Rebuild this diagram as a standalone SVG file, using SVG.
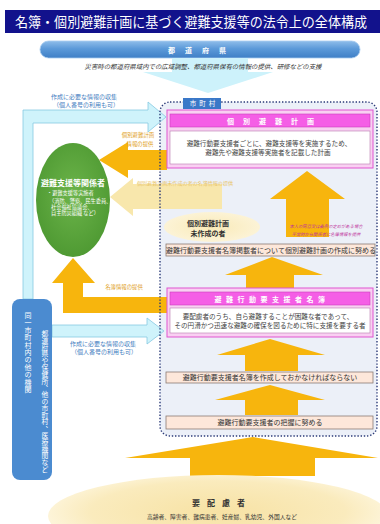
<svg xmlns="http://www.w3.org/2000/svg" width="380" height="524" viewBox="0 0 380 524">
<defs>
<linearGradient id="gPref" x1="0" y1="0" x2="0" y2="1">
<stop offset="0" stop-color="#8fbdea"/><stop offset="0.45" stop-color="#5c9ad9"/><stop offset="1" stop-color="#3f7fc6"/>
</linearGradient>
<radialGradient id="gCare" cx="0.5" cy="0.45" r="0.5">
<stop offset="0" stop-color="#f7e2a4"/><stop offset="0.75" stop-color="#faebbd"/><stop offset="1" stop-color="#fdf4d8"/>
</radialGradient>
<radialGradient id="gGreen" cx="0.5" cy="0.45" r="0.55">
<stop offset="0" stop-color="#6cb44a"/><stop offset="1" stop-color="#4f9a33"/>
</radialGradient>
<radialGradient id="gPale" cx="0.5" cy="0.5" r="0.5">
<stop offset="0" stop-color="#f9eab8"/><stop offset="1" stop-color="#fcf3d6"/>
</radialGradient>
</defs>
<style>
text{font-family:"Noto Sans CJK JP","Noto Sans",sans-serif;}
.wt{fill:#fff}
.bar{fill:#fde7da;stroke:#8a7c74;stroke-width:0.8}
.bt{font-size:7px;fill:#333;text-anchor:middle}
.pOuter{fill:#f9d0f2;stroke:#e055d0;stroke-width:1}
.pHead{fill:#f55ee6;stroke:#c93dbc;stroke-width:0.6}
.pBody{fill:#fff;stroke:#b77ab0;stroke-width:0.6}
.pht{font-size:7px;fill:#fff;text-anchor:middle;font-weight:bold}
.pt{font-size:6.6px;fill:#444;text-anchor:middle}
.orange{fill:#f7b50d}
.cyan{fill:#cff3fb;stroke:#86c9e2;stroke-width:0.8}
.pale{fill:#f8e7ac}
.ct{font-size:6px;fill:#3f7cc0;text-anchor:middle}
.ot{font-size:5.4px;fill:#e0a01c;text-anchor:middle}
.nt{font-size:4.3px;font-style:italic;fill:#c0349c;text-anchor:middle}
</style>
<rect x="0" y="0" width="380" height="524" fill="#fff"/>

<g id="title">
<rect x="5" y="10" width="375" height="23" fill="#12128c"/>
<text x="15" y="27" font-size="13.4" class="wt" textLength="352" lengthAdjust="spacingAndGlyphs">名簿・個別避難計画に基づく避難支援等の法令上の全体構成</text>
</g>

<g id="prefecture">
<rect x="40" y="41" width="320" height="17" rx="8.5" fill="url(#gPref)" stroke="#a8cdf0" stroke-width="0.8"/>
<polygon points="172,58 248,58 248,72 273,72 208,93 143,72 172,72" fill="#cdf2fb"/>
<text x="202" y="52.5" font-size="7" font-weight="bold" class="wt" text-anchor="middle" letter-spacing="10">都道府県</text>
<text x="203" y="69" font-size="6.4" font-style="italic" fill="#333" text-anchor="middle" textLength="237" lengthAdjust="spacingAndGlyphs">災害時の都道府県域内での広域調整、都道府県保有の情報の提供、研修などの支援</text>
</g>

<rect id="municipality-area" x="160" y="102" width="217" height="334" rx="10" fill="#ecf0f8"/>

<g id="connectors">
<polygon class="cyan" points="23,299 23,110 148,110 148,102 166,117 148,132 148,123 33,123 33,299"/>
<text class="ct" x="84" y="99">作成に必要な情報の収集</text>
<text class="ct" x="86" y="107">（個人番号の利用も可）</text>
<polygon class="cyan" points="52,325 147,325 147,318 164,331 147,344 147,337 52,337"/>
<text class="ct" x="103" y="346">作成に必要な情報の収集</text>
<text class="ct" x="104" y="354">（個人番号の利用も可）</text>
<polygon class="orange" points="167,150 128,150 128,142 99,160 128,178 128,170 167,170"/>
<text class="ot" x="138" y="137">個別避難計画</text>
<text class="ot" x="140" y="146">情報の提供</text>
<polygon class="pale" points="222,184 133,184 133,178 110,197 133,216 133,209 222,209"/>
<text x="185" y="185" font-size="5" fill="#e8c468" text-anchor="middle" textLength="96" lengthAdjust="spacingAndGlyphs">個別避難計画未作成の者の名簿情報の提供</text>
<polygon class="orange" points="167,297 83,297 83,283 95,283 73,258 52,283 63,283 63,313 167,313"/>
<text class="ot" x="124" y="289">名簿情報の提供</text>
<polygon class="orange" points="286,237 286,199 270,199 307,171 345,199 329,199 329,237"/>
<polygon class="orange" points="246,288 246,275 225,275 272,257 323,275 294,275 294,288"/>
<polygon class="orange" points="245,371 245,355 217,355 270,339 325,355 298,355 298,371"/>
<polygon class="orange" points="245,415 245,400 215,400 270,385 325,400 298,400 298,415"/>
<polygon class="orange" points="190,476 190,458 125,458 253,437 378,458 315,458 315,476"/>
</g>

<rect x="160" y="102" width="217" height="334" rx="10" fill="none" stroke="#2b3a78" stroke-width="1.4" stroke-dasharray="1.4 1.8"/>

<g id="municipality-label">
<rect x="183" y="98" width="38" height="11" fill="#3a78c8"/>
<text x="204" y="106" font-size="6.5" class="wt" text-anchor="middle" letter-spacing="3">市町村</text>
</g>

<g id="other-bodies">
<rect x="12" y="299" width="40" height="181" rx="8" fill="#4b8bd0"/>
<text font-size="7" class="wt" text-anchor="middle" x="28 28 28 28 28 28 28 28 28 28 28" y="318 325.4 332.8 340.2 347.6 355 362.4 369.8 377.2 384.6 392">同一市町村内の他の機関</text>
<text font-size="6.8" class="wt" text-anchor="middle" x="45 45 45 45 45 45 45 45 49 45 45 45 45 45 49 45 45 45 45 45 45" y="336 342.8 349.6 356.4 363.2 370 376.8 383.6 385.9 397.2 404 410.8 417.6 424.4 426.7 438 444.8 451.6 458.4 465.2 472">都道府県や保健所、他の市町村、医療機関など</text>
</g>

<g id="supporters">
<ellipse cx="73" cy="200" rx="37" ry="57" fill="url(#gGreen)"/>
<text x="73" y="186" font-size="8" font-weight="bold" class="wt" text-anchor="middle">避難支援等関係者</text>
<text x="47" y="195" font-size="5.2" class="wt">・避難支援等実施者</text>
<text x="49" y="203" font-size="5.2" class="wt">（消防、警察、民生委員、</text>
<text x="51" y="209" font-size="5.2" class="wt">社会福祉協議会、</text>
<text x="51" y="215" font-size="5.2" class="wt">自主防災組織 など）</text>
</g>

<g id="individual-plan">
<rect class="pOuter" x="167" y="110" width="206" height="58"/>
<rect class="pHead" x="170" y="114" width="200" height="13"/>
<text class="pht" x="275" y="123.5" letter-spacing="9">個別避難計画</text>
<rect class="pBody" x="170" y="131" width="200" height="33"/>
<text class="pt" x="269" y="145.5">避難行動要支援者ごとに、避難支援等を実施するため、</text>
<text class="pt" x="268" y="154.5">避難先や避難支援等実施者を記載した計画</text>
</g>

<g id="not-yet-planned">
<ellipse cx="212" cy="227" rx="48" ry="15" fill="url(#gPale)"/>
<text x="208" y="225.5" font-size="7" font-weight="bold" fill="#333" text-anchor="middle">個別避難計画</text>
<text x="208" y="235.5" font-size="7" font-weight="bold" fill="#333" text-anchor="middle">未作成の者</text>
</g>

<g id="consent-note">
<text class="nt" x="326" y="228">本人の同意又は条例の定めがある場合</text>
<text class="nt" x="326" y="236">平常時から関係者に名簿情報を提供</text>
</g>

<g id="duty-plan">
<rect class="bar" x="166" y="244" width="209" height="12"/>
<text class="bt" x="271" y="252.6">避難行動要支援者名簿掲載者について個別避難計画の作成に努める</text>
</g>

<g id="list">
<rect class="pOuter" x="167" y="288" width="206" height="49"/>
<rect class="pHead" x="170" y="292" width="200" height="13"/>
<text class="pht" x="272" y="301.5" letter-spacing="4.5">避難行動要支援者名簿</text>
<rect class="pBody" x="170" y="308" width="200" height="25"/>
<text class="pt" x="268" y="318.5">要配慮者のうち、自ら避難することが困難な者であって、</text>
<text class="pt" x="270" y="327.5">その円滑かつ迅速な避難の確保を図るために特に支援を要する者</text>
</g>

<g id="duty-list">
<rect class="bar" x="166" y="372" width="207" height="11"/>
<text class="bt" x="270" y="380.3">避難行動要支援者名簿を作成しておかなければならない</text>
</g>

<g id="duty-grasp">
<rect class="bar" x="166" y="416" width="207" height="13"/>
<text class="bt" x="270" y="425">避難行動要支援者の把握に努める</text>
</g>

<g id="people-requiring-care">
<ellipse cx="218" cy="516" rx="170" ry="41" fill="url(#gCare)"/>
<text x="222" y="506" font-size="8" font-weight="bold" fill="#333" text-anchor="middle" letter-spacing="7">要配慮者</text>
<text x="222" y="519" font-size="5.8" fill="#333" text-anchor="middle" textLength="150" lengthAdjust="spacingAndGlyphs">高齢者、障害者、難病患者、妊産婦、乳幼児、外国人など</text>
</g>
</svg>
